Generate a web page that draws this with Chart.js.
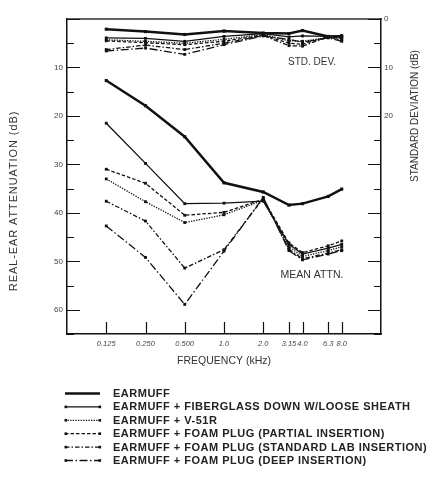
<!DOCTYPE html>
<html><head><meta charset="utf-8">
<script src="https://cdn.jsdelivr.net/npm/chart.js@4/dist/chart.umd.min.js"></script>
<style>html,body{margin:0;padding:0;background:#fff}#wrap{width:433px;height:489px;position:relative}canvas{display:block}</style>
</head><body><div id="wrap"><canvas id="c" width="433" height="489"></canvas></div>
<script>
// ---- data ----
const frequencies = [0.125, 0.25, 0.5, 1, 2, 3.15, 4, 6.3, 8];
const freqTickLabels = ['0.125', '0.250', '0.500', '1.0', '2.0', '3.15', '4.0', '6.3', '8.0'];
const leftTickValues = [10, 20, 30, 40, 50, 60];
const rightTickValues = [0, 10, 20];
const minorTickValues = [0, 5, 10, 15, 20, 25, 30, 35, 40, 45, 50, 55, 60, 65];

const seriesNames = [
  'EARMUFF',
  'EARMUFF + FIBERGLASS DOWN W/LOOSE SHEATH',
  'EARMUFF + V-51R',
  'EARMUFF + FOAM PLUG (PARTIAL INSERTION)',
  'EARMUFF + FOAM PLUG (STANDARD LAB INSERTION)',
  'EARMUFF + FOAM PLUG (DEEP INSERTION)'
];

// mean attenuation (dB), left axis
const meanEarmuff    = [12.7, 17.9, 24.3, 33.8, 35.7, 38.4, 38.1, 36.6, 35.1];
const meanFiberglass = [21.5, 29.8, 38.1, 38.0, 37.6, 46.5, 48.5, 47.3, 46.5];
const meanV51R       = [33.0, 37.7, 42.0, 40.4, 37.4, 47.0, 49.0, 47.8, 47.0];
const meanPartial    = [31.0, 33.9, 40.5, 39.9, 37.2, 46.2, 48.2, 46.8, 45.8];
const meanStandard   = [37.6, 41.7, 51.4, 47.6, 37.0, 47.5, 49.5, 48.3, 47.6];
const meanDeep       = [42.7, 49.2, 58.9, 47.9, 36.8, 47.8, 49.7, 48.5, 47.8];

// standard deviation (dB), right axis
const sdEarmuff    = [2.1, 2.6, 3.2, 2.5, 2.9, 3.0, 2.4, 3.6, 3.6];
const sdFiberglass = [3.9, 4.0, 4.6, 3.6, 3.0, 3.7, 3.5, 3.6, 3.4];
const sdV51R       = [4.3, 4.6, 5.0, 4.2, 3.2, 4.5, 4.6, 3.8, 3.9];
const sdPartial    = [4.5, 4.9, 5.3, 4.6, 3.3, 5.0, 5.2, 3.6, 4.1];
const sdStandard   = [6.3, 5.4, 6.3, 5.0, 3.4, 5.5, 5.6, 3.7, 4.4];
const sdDeep       = [6.6, 6.0, 7.3, 5.3, 3.5, 4.2, 4.8, 3.9, 4.6];

const meanSeries = [meanEarmuff, meanFiberglass, meanV51R, meanPartial, meanStandard, meanDeep];
const sdSeries = [sdEarmuff, sdFiberglass, sdV51R, sdPartial, sdStandard, sdDeep];

// ---- styles ----
const INK = '#111';
const lineStyles = [
  { width: 2.5, dash: [], radius: 2.2 },
  { width: 1.3, dash: [], radius: 2 },
  { width: 1.3, dash: [1.3, 1.3], radius: 2 },
  { width: 1.3, dash: [3.5, 2], radius: 2 },
  { width: 1.3, dash: [4.5, 2, 1.5, 2], radius: 2 },
  { width: 1.3, dash: [8, 2.5, 1.5, 2.5], radius: 2 }
];
const FONT = '"Liberation Sans", Arial, Helvetica, sans-serif';
Chart.defaults.font.family = FONT;

function makeDataset(name, values, style, axis, isMean) {
  return {
    label: name,
    data: frequencies.map((f, j) => ({ x: f, y: values[j] })),
    xAxisID: 'x', yAxisID: axis, isMean: isMean,
    borderColor: INK, backgroundColor: INK,
    borderWidth: style.width, borderDash: style.dash,
    pointStyle: 'rect', pointRadius: style.radius, pointHoverRadius: style.radius,
    pointBackgroundColor: INK, pointBorderColor: INK, pointBorderWidth: 0,
    tension: 0, fill: false, clip: false
  };
}
const datasets = [];
seriesNames.forEach((n, i) => datasets.push(makeDataset(n, meanSeries[i], lineStyles[i], 'y', true)));
seriesNames.forEach((n, i) => datasets.push(makeDataset(n + ' (STD. DEV.)', sdSeries[i], lineStyles[i], 'y2', false)));

// inward tick marks drawn from the library's scales
const tickPlugin = {
  id: 'innerTicks',
  afterDraw(chart) {
    const ctx = chart.ctx, a = chart.chartArea;
    const y = chart.scales.y, x = chart.scales.x;
    ctx.save();
    ctx.strokeStyle = INK; ctx.lineWidth = 1.2;
    ctx.beginPath();
    minorTickValues.forEach(v => {
      const py = Math.round(y.getPixelForValue(v)) + 0.5;
      const len = v % 10 === 0 ? 13 : 7;
      ctx.moveTo(a.left, py); ctx.lineTo(a.left + len, py);
      ctx.moveTo(a.right, py); ctx.lineTo(a.right - len, py);
    });
    frequencies.forEach(f => {
      const px = Math.round(x.getPixelForValue(f)) + 0.5;
      ctx.moveTo(px, a.bottom); ctx.lineTo(px, a.bottom - 12);
    });
    ctx.stroke();
    ctx.restore();
  }
};

// titles and annotations
const textPlugin = {
  id: 'texts',
  afterDraw(chart) {
    const ctx = chart.ctx;
    ctx.save();
    ctx.fillStyle = '#333';
    ctx.textAlign = 'center'; ctx.textBaseline = 'middle';
    ctx.font = '10.5px ' + FONT;
    ctx.fillText('FREQUENCY (kHz)', 224, 361);
    ctx.font = '10px ' + FONT;
    ctx.fillText('STD. DEV.', 312, 62);
    ctx.font = '10.5px ' + FONT;
    ctx.fillText('MEAN ATTN.', 312, 275);
    ctx.save();
    ctx.translate(14, 201); ctx.rotate(-Math.PI / 2);
    ctx.font = '11px ' + FONT;
    ctx.letterSpacing = '0.9px';
    ctx.fillText('REAL-EAR ATTENUATION (dB)', 0, 0);
    ctx.restore();
    ctx.save();
    ctx.translate(415, 116); ctx.rotate(-Math.PI / 2);
    ctx.font = '10px ' + FONT;
    ctx.fillText('STANDARD DEVIATION (dB)', 0, 0);
    ctx.restore();
    ctx.restore();
  }
};

// legend
const legendPlugin = {
  id: 'lineLegend',
  afterDraw(chart) {
    const ctx = chart.ctx;
    const items = chart.data.datasets.filter(d => d.isMean);
    items.forEach((d, i) => {
      const yy = 393.5 + i * 13.4;
      ctx.save();
      ctx.strokeStyle = INK; ctx.lineWidth = d.borderWidth;
      ctx.setLineDash(d.borderDash);
      ctx.beginPath(); ctx.moveTo(65, yy); ctx.lineTo(100, yy); ctx.stroke();
      ctx.setLineDash([]);
      if (i > 0) {
        ctx.fillStyle = INK;
        ctx.fillRect(64.5, yy - 1.3, 2.6, 2.6);
        ctx.fillRect(98.5, yy - 1.3, 2.6, 2.6);
      }
      ctx.fillStyle = '#222';
      ctx.font = 'bold 11px ' + FONT;
      ctx.letterSpacing = '0.5px';
      ctx.textAlign = 'left'; ctx.textBaseline = 'middle';
      ctx.fillText(d.label, 113, yy + 0.5);
      ctx.restore();
    });
  }
};

new Chart(document.getElementById('c'), {
  type: 'line',
  data: { datasets },
  options: {
    responsive: false, devicePixelRatio: 1, animation: false,
    layout: { padding: { left: 0, right: 0, top: 19, bottom: 0 } },
    plugins: { legend: { display: false }, tooltip: { enabled: false } },
    scales: {
      x: {
        type: 'logarithmic', position: 'bottom', min: 0.0625, max: 16,
        afterBuildTicks: s => { s.ticks = frequencies.map(v => ({ value: v })); },
        afterFit: s => { s.height = 155; },
        grid: { display: false, drawTicks: false },
        border: { display: true, color: INK, width: 1.5 },
        ticks: {
          autoSkip: false, maxRotation: 0, padding: 5, color: '#444',
          font: { size: 7.5, style: 'italic' },
          callback: (v, i) => freqTickLabels[i]
        }
      },
      xTop: {
        type: 'logarithmic', position: 'top', min: 0.0625, max: 16,
        afterFit: s => { s.height = 0; },
        grid: { display: false, drawTicks: false },
        border: { display: true, color: '#666', width: 2 },
        ticks: { display: false }
      },
      y: {
        type: 'linear', position: 'left', reverse: true, min: 0, max: 65,
        afterBuildTicks: s => { s.ticks = leftTickValues.map(v => ({ value: v })); },
        afterFit: s => { s.width = 67; },
        grid: { display: false, drawTicks: false },
        border: { display: true, color: INK, width: 1.5 },
        ticks: { padding: 4, color: '#444', font: { size: 8 } }
      },
      y2: {
        type: 'linear', position: 'right', reverse: true, min: 0, max: 65,
        afterBuildTicks: s => { s.ticks = rightTickValues.map(v => ({ value: v })); },
        afterFit: s => { s.width = 52; },
        grid: { display: false, drawTicks: false },
        border: { display: true, color: INK, width: 1.5 },
        ticks: { padding: 3, color: '#444', font: { size: 8 } }
      }
    }
  },
  plugins: [tickPlugin, textPlugin, legendPlugin]
});
</script></body></html>
